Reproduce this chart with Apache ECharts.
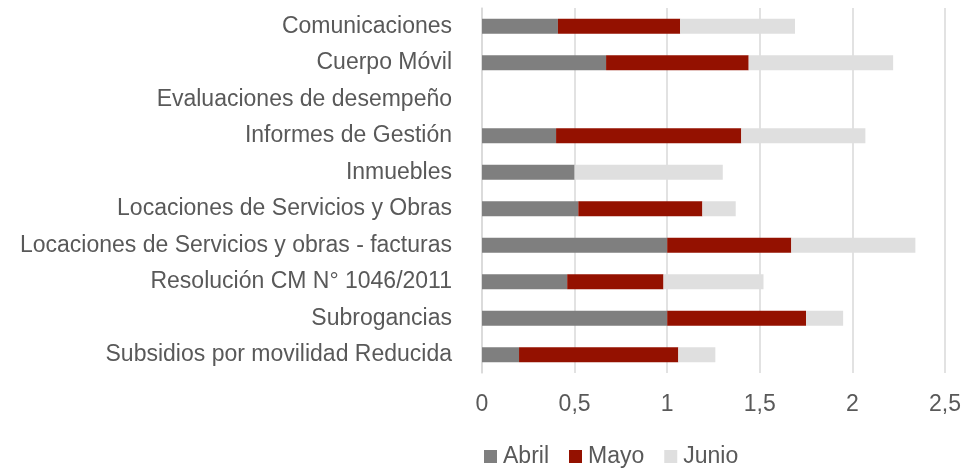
<!DOCTYPE html>
<html>
<head>
<meta charset="utf-8">
<script src="https://cdn.jsdelivr.net/npm/echarts@6/dist/echarts.min.js"></script>
<style>
  html, body { margin: 0; padding: 0; background: #fff; }
  #chart { width: 968px; height: 469px; }
</style>
</head>
<body>
<div id="chart"></div>
<script>
// categories, top to bottom as shown
const categories = [
  'Comunicaciones',
  'Cuerpo Móvil',
  'Evaluaciones de desempeño',
  'Informes de Gestión',
  'Inmuebles',
  'Locaciones de Servicios y Obras',
  'Locaciones de Servicios y obras - facturas',
  'Resolución CM N° 1046/2011',
  'Subrogancias',
  'Subsidios por movilidad Reducida'
]
const abril = [0.41, 0.67, 0, 0.40, 0.50, 0.52, 1.00, 0.46, 1.00, 0.20]
const mayo = [0.66, 0.77, 0, 1.00, 0, 0.67, 0.67, 0.52, 0.75, 0.86]
const junio = [0.62, 0.78, 0, 0.67, 0.80, 0.18, 0.67, 0.54, 0.20, 0.20]
const xTicks = [0, 0.5, 1, 1.5, 2, 2.5]

const colors = ['#7f7f7f', '#941100', '#dfdfdf']
const font = '"Liberation Sans", Arial, sans-serif'

const chart = echarts.init(document.getElementById('chart'))

const makeSeries = (name, data) => ({
  name: name,
  type: 'bar',
  stack: 'total',
  barWidth: 15,
  data: data
})

const option = {
  color: colors,
  animation: false,
  textStyle: { fontFamily: font },
  grid: {
    left: 482,
    right: 23,
    top: 8,
    bottom: 96
  },
  legend: {
    top: 445,
    left: 484,
    padding: 0,
    itemWidth: 13,
    itemHeight: 13,
    itemGap: 20,
    icon: 'rect',
    textStyle: { fontSize: 23, color: '#595959', fontFamily: font, padding: [0, 0, 0, 1] },
    data: ['Abril', 'Mayo', 'Junio']
  },
  xAxis: {
    type: 'value',
    min: xTicks[0],
    max: xTicks[xTicks.length - 1],
    interval: 0.5,
    axisLine: { show: false },
    axisTick: { show: false },
    splitLine: { lineStyle: { color: '#d9d9d9', width: 1.5 } },
    axisLabel: {
      fontSize: 23,
      color: '#595959',
      fontFamily: font,
      margin: 20,
      formatter: (v) => String(v).replace('.', ',')
    }
  },
  yAxis: {
    type: 'category',
    inverse: true,
    data: categories,
    axisLine: { show: true, lineStyle: { color: '#d9d9d9', width: 1.5 } },
    axisTick: { show: false },
    axisLabel: {
      fontSize: 23,
      color: '#595959',
      fontFamily: font,
      margin: 30
    }
  },
  series: [
    makeSeries('Abril', abril),
    makeSeries('Mayo', mayo),
    makeSeries('Junio', junio)
  ]
}

chart.setOption(option)
</script>
</body>
</html>
